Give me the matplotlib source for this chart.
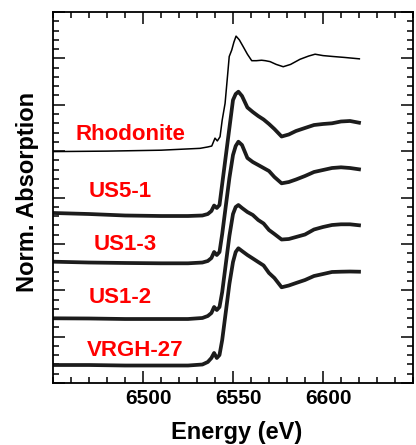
import matplotlib
matplotlib.use("Agg")
import matplotlib.pyplot as plt
from matplotlib.ticker import MultipleLocator
from matplotlib.transforms import ScaledTranslation

plt.rcParams['font.family'] = ['Liberation Sans', 'DejaVu Sans']
plt.rcParams['font.weight'] = 'bold'

# ---------------- data ----------------
rhod_energy = [6450, 6480, 6510, 6531.7, 6536, 6538.2, 6540, 6541.3, 6542.8, 6544,
               6545.6, 6547, 6547.9, 6549.3, 6550.5, 6551.7, 6553.5, 6555.7, 6558,
               6560.4, 6563, 6565.9, 6568, 6570.6, 6574, 6577.9, 6582, 6587.2, 6592,
               6595.6, 6600, 6605.7, 6612, 6620.2]
rhod_abs = [4.99, 5.00, 5.02, 5.06, 5.09, 5.11, 5.28, 5.22, 5.31, 5.67,
            6.03, 6.64, 7.04, 7.18, 7.35, 7.48, 7.40, 7.25, 7.09,
            6.95, 6.95, 6.96, 6.95, 6.93, 6.87, 6.82, 6.87, 6.98, 7.05,
            7.09, 7.06, 7.04, 7.02, 6.99]

sample_energy = [6450, 6470, 6490, 6510, 6525, 6533, 6536, 6538, 6539.5, 6541,
                 6542.5, 6544, 6546, 6548, 6550, 6551.5, 6553, 6555, 6558, 6561,
                 6564, 6567, 6570, 6573, 6577, 6581, 6585, 6590, 6595, 6600,
                 6605, 6610, 6615, 6620]
us5_1 = [3.666, 3.644, 3.612, 3.601, 3.601, 3.612, 3.644, 3.709, 3.827, 3.774,
         3.838, 4.291, 4.895, 5.499, 6.102, 6.232, 6.281, 6.189, 5.941, 5.844,
         5.757, 5.682, 5.585, 5.477, 5.315, 5.359, 5.434, 5.499, 5.563, 5.585,
         5.600, 5.639, 5.650, 5.613]
us1_3 = [2.616, 2.598, 2.588, 2.581, 2.581, 2.598, 2.631, 2.695, 2.825, 2.760,
         2.825, 3.213, 3.817, 4.420, 4.916, 5.111, 5.203, 5.132, 4.852, 4.765,
         4.701, 4.636, 4.571, 4.442, 4.306, 4.334, 4.388, 4.464, 4.550, 4.593,
         4.636, 4.651, 4.636, 4.608]
us1_2 = [1.395, 1.391, 1.380, 1.380, 1.380, 1.402, 1.445, 1.509, 1.639, 1.574,
         1.639, 1.962, 2.566, 3.170, 3.644, 3.795, 3.838, 3.774, 3.687, 3.623,
         3.515, 3.439, 3.299, 3.213, 3.094, 3.105, 3.148, 3.202, 3.310, 3.364,
         3.407, 3.422, 3.422, 3.401]
vrgh_27 = [0.388, 0.388, 0.377, 0.377, 0.377, 0.399, 0.453, 0.539, 0.647, 0.539,
           0.604, 0.927, 1.531, 2.135, 2.609, 2.825, 2.905, 2.846, 2.760, 2.685,
           2.609, 2.534, 2.372, 2.264, 2.064, 2.102, 2.156, 2.221, 2.307, 2.350,
           2.394, 2.400, 2.404, 2.400]

labels = ["Rhodonite", "US5-1", "US1-3", "US1-2", "VRGH-27"]
label_x = [6493.1, 6487.6, 6490.0, 6487.5, 6495.6]
label_y = [5.35, 4.13, 2.98, 1.84, 0.71]

x_ticks = [6500, 6550, 6600]

# ---------------- figure ----------------
fig = plt.figure(figsize=(4.16, 4.45), dpi=100)
ax = fig.add_axes([53/416, 1 - 383/445, 360/416, 371/445])

ax.plot(rhod_energy, rhod_abs, color='black', lw=1.1)
for ys in [us5_1, us1_3, us1_2, vrgh_27]:
    ax.plot(sample_energy, ys, color='#1c1c1c', lw=2.7, solid_joinstyle='round')

for t, x, y in zip(labels, label_x, label_y):
    ax.text(x, y, t, color='#ff0000', fontsize=16, fontweight='bold',
            ha='center', va='center')

ax.set_xlim(6450, 6650)
ax.set_ylim(0, 8)
ax.set_xticks(x_ticks)
ax.xaxis.set_minor_locator(MultipleLocator(10))
ax.yaxis.set_major_locator(MultipleLocator(1))
ax.yaxis.set_minor_locator(MultipleLocator(0.2))
ax.set_yticklabels([])

ax.tick_params(which='both', direction='in', top=True, right=True,
               width=1.1, colors='black')
ax.tick_params(which='major', length=8.5, labelsize=15, pad=4)
ax.tick_params(which='minor', length=4.5)
for lab in ax.get_xticklabels():
    lab.set_fontweight('bold')
    lab.set_transform(lab.get_transform() + ScaledTranslation(6/100, 0, fig.dpi_scale_trans))
for sp in ax.spines.values():
    sp.set_linewidth(1.3)

xl = ax.set_xlabel("Energy (eV)", fontsize=17, fontweight='bold')
yl = ax.set_ylabel("Norm. Absorption", fontsize=17, fontweight='bold')
xl.set_va('center')
yl.set_va('center')
ax.xaxis.set_label_coords((236.5 - 53) / 360, (383 - 432) / 371)
ax.yaxis.set_label_coords((28 - 53) / 360, (383 - 192) / 371)

fig.savefig("out.png", dpi=100)
